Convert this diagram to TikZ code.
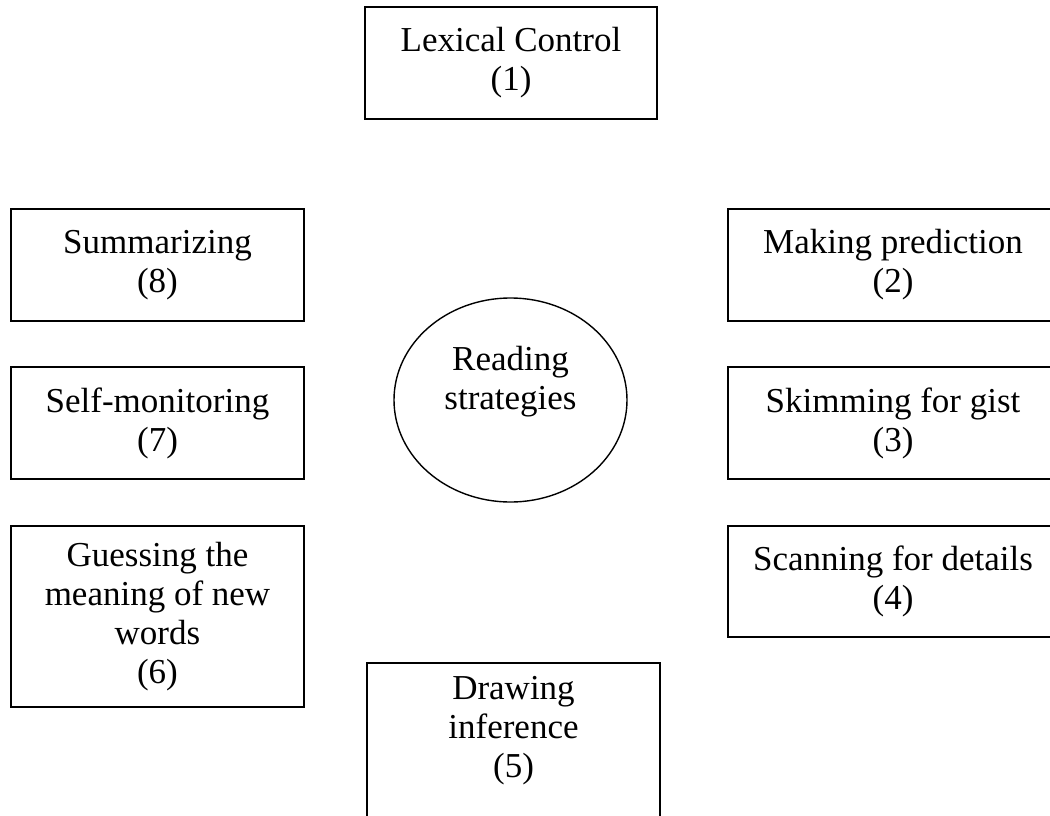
\documentclass[tikz,border=0pt]{standalone}
\usepackage{fontspec}
\setmainfont{Liberation Serif}
\usetikzlibrary{shapes.geometric}
\begin{document}
\begin{tikzpicture}[x=1pt,y=-1pt,
  every node/.style={font=\fontsize{35}{39}\selectfont, align=center, inner sep=0pt},
  boxshape/.style={draw=black, line width=1.5pt, rectangle},
  lbox/.style={boxshape, minimum width=293pt, minimum height=112pt},
  rbox/.style={boxshape, minimum width=330pt, minimum height=112pt},
  oval/.style={draw=black, line width=1.4pt, ellipse, minimum width=233pt, minimum height=204pt}]
\useasboundingbox (0,0) rectangle (1050,816);
\clip (0,0) rectangle (1050,816);
\fill[white] (0,0) rectangle (1050,816);
% top
\node[boxshape, minimum width=292pt, minimum height=112pt] (n1) at (511,63) {Lexical Control\\(1)};
% left column
\node[lbox] (n8) at (157.5,265) {Summarizing\\(8)};
\node[lbox] (n7) at (157.5,423) {Self-monitoring\\(7)};
\node[lbox, minimum height=181pt] (n6) at (157.5,616.5) {Guessing the\\meaning of new\\words\\(6)};
% right column
\node[rbox] (n2) at (893,265) {Making prediction\\(2)};
\node[rbox] (n3) at (893,423) {Skimming for gist\\(3)};
\node[rbox, minimum height=111pt] (n4) at (893,581.5) {Scanning for details\\(4)};
% bottom
\node[boxshape, minimum width=293pt, minimum height=200pt, anchor=north] (n5) at (513.5,662) {};
\node (n5t) at (513.5,731) {Drawing\\inference\\(5)};
% centre
\node[oval] (rs) at (510.5,400) {};
\node (rst) at (510.5,382) {Reading\\strategies};
\end{tikzpicture}
\end{document}
